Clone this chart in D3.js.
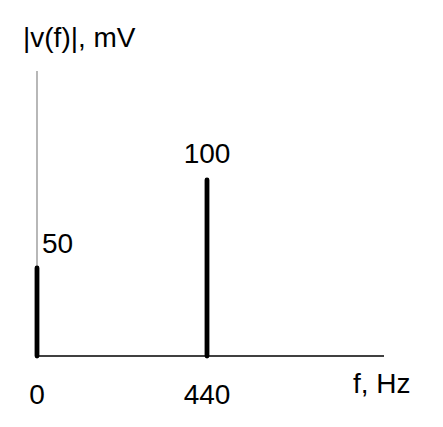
<!DOCTYPE html>
<html><head><meta charset="utf-8">
<script src="https://cdn.jsdelivr.net/npm/d3@7/dist/d3.min.js"></script>
<style>html,body{margin:0;padding:0;background:#fff;}svg{display:block;}</style>
</head><body>
<script>
const frequencies = [0, 440];
const amplitudes = [50, 100];
const xTickLabels = ["0", "440"];
const yTitle = "|v(f)|, mV";
const xTitle = "f, Hz";

const W = 443, H = 427;
const svg = d3.select("body").append("svg").attr("width", W).attr("height", H);
const font = "Liberation Sans, Arial, sans-serif";

const x = d3.scaleLinear().domain([0, 440]).range([37, 207]);
const y = d3.scaleLinear().domain([0, 100]).range([356, 180]);

// y axis (thin gray)
svg.append("line").attr("x1", x(0)).attr("x2", x(0)).attr("y1", 71).attr("y2", y(0))
  .attr("stroke", "#888").attr("stroke-width", 1.2);
// x axis
svg.append("line").attr("x1", x(0)).attr("x2", 384).attr("y1", y(0)).attr("y2", y(0))
  .attr("stroke", "#000").attr("stroke-width", 1.3);

// bars
svg.selectAll("line.bar").data(frequencies).enter().append("line").attr("class", "bar")
  .attr("x1", d => x(d)).attr("x2", d => x(d))
  .attr("y1", y(0)).attr("y2", (d, i) => y(amplitudes[i]))
  .attr("stroke", "#000").attr("stroke-width", 4.8).attr("stroke-linecap", "round");

// value labels
svg.append("text").attr("x", x(frequencies[0]) + 5).attr("y", 253)
  .attr("font-family", font).attr("font-size", 28).text(amplitudes[0]);
svg.append("text").attr("x", x(frequencies[1])).attr("y", 163).attr("text-anchor", "middle")
  .attr("font-family", font).attr("font-size", 28).text(amplitudes[1]);

// tick labels
svg.selectAll("text.tick").data(frequencies).enter().append("text").attr("class", "tick")
  .attr("x", d => x(d)).attr("y", 404).attr("text-anchor", "middle")
  .attr("font-family", font).attr("font-size", 28).text((d, i) => xTickLabels[i]);

// titles
svg.append("text").attr("x", 23).attr("y", 47).attr("font-family", font).attr("font-size", 28).text(yTitle);
svg.append("text").attr("x", 353).attr("y", 393).attr("font-family", font).attr("font-size", 28).text(xTitle);
</script>
</body></html>
